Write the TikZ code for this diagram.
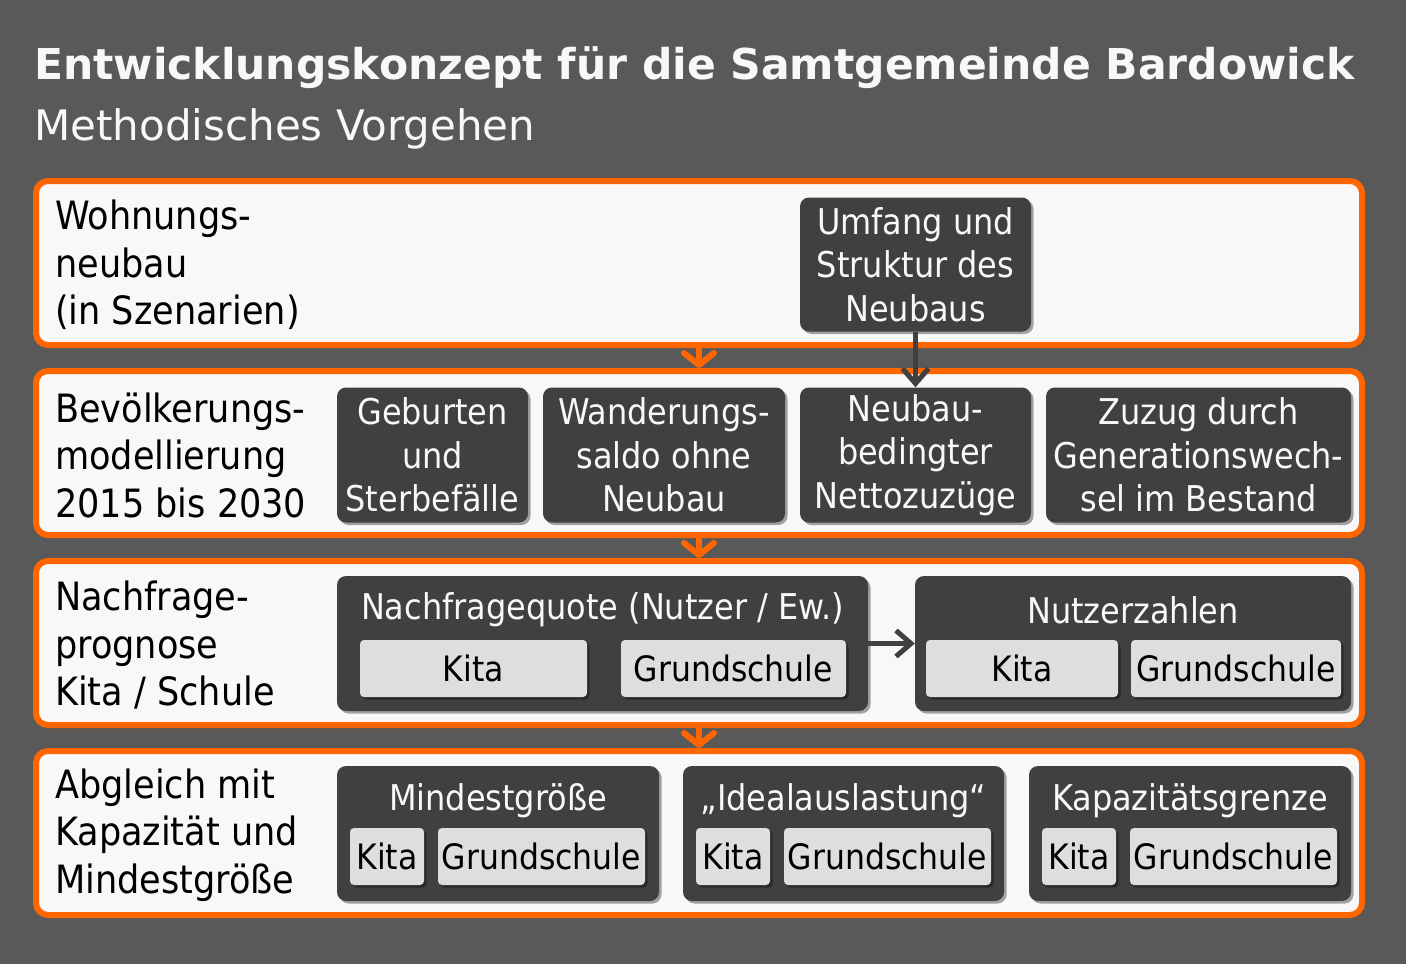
\documentclass[tikz,border=0pt]{standalone}
\usepackage{fontspec}
\setmainfont{DejaVu Sans Condensed}
\newfontfamily\widefam{DejaVu Sans}
\usetikzlibrary{shadows,arrows.meta}
\definecolor{bg}{HTML}{595959}
\definecolor{orng}{HTML}{FF6600}
\definecolor{panelfill}{HTML}{F8F8F8}
\definecolor{dark}{HTML}{404040}
\definecolor{light}{HTML}{DEDEDE}
\definecolor{txtw}{HTML}{F8F8F8}
\newcommand\ttlfont{\widefam\fontsize{42.5}{48}\bfseries\selectfont}
\newcommand\subfont{\widefam\fontsize{42}{48}\selectfont}
\newcommand\bxfont{\fontsize{35.5}{43.5}\selectfont}
\newcommand\lbxfont{\fontsize{35}{43.5}\selectfont}
\newcommand\lblfont{\fontsize{39}{47.5}\selectfont}
\begin{document}
\begin{tikzpicture}[x=1pt,y=-1pt,
  shad/.style={drop shadow={shadow xshift=2.5pt,shadow yshift=-2.5pt,opacity=0.35,fill=black}},
  panel/.style={draw=orng,line width=6pt,fill=panelfill,rounded corners=12pt,
    minimum width=1326pt,minimum height=164pt,inner sep=0pt,shad},
  darkbox/.style={fill=dark,rounded corners=9pt,inner sep=0pt,text=txtw,align=center,
    font=\bxfont,minimum height=135pt,shad},
  lightbox/.style={fill=light,rounded corners=4pt,inner sep=0pt,text=black,font=\lbxfont,
    minimum height=57pt,shad},
  hdr/.style={inner sep=0pt,text=txtw,font=\bxfont},
  lbl/.style={anchor=west,align=left,inner sep=0pt,font=\lblfont,text=black},
  oarrow/.style={draw=orng,line width=6pt,-{Straight Barb[length=12pt,width=30pt,round]}},
  darrow/.style={draw=dark,line width=5pt,-{Straight Barb[length=15pt,width=26pt]}}
]
\fill[bg] (0,0) rectangle (1406,964);
\useasboundingbox (0,0) rectangle (1406,964);

\node[anchor=base west,inner sep=0pt,font=\ttlfont,text=txtw] (title) at (34,79)
  {Entwicklungskonzept für die Samtgemeinde Bardowick};
\node[anchor=base west,inner sep=0pt,font=\subfont,text=txtw] (subtitle) at (34,140)
  {Methodisches Vorgehen};

% panels
\node[panel] (p1) at (699,263) {};
\node[panel] (p2) at (699,453) {};
\node[panel] (p3) at (699,643) {};
\node[panel] (p4) at (699,833) {};

% left labels
\node[lbl] (l1) at (55,265) {Wohnungs-\\neubau\\(in Szenarien)};
\node[lbl] (l2) at (55,455) {Bevölkerungs-\\modellierung\\2015 bis 2030};
\node[lbl] (l3) at (55,645) {Nachfrage-\\prognose\\Kita / Schule};
\node[lbl] (l4) at (55,835) {Abgleich mit\\Kapazität und\\Mindestgröße};

% panel 1
\node[darkbox,minimum width=231pt,minimum height=134pt] (u) at (915.5,264.5) {Umfang und\\Struktur des\\Neubaus};

% panel 2
\node[darkbox,minimum width=191pt] (g) at (432.5,455) {Geburten\\und\\Sterbefälle};
\node[darkbox,minimum width=242pt] (w) at (664,455) {Wanderungs-\\saldo ohne\\Neubau};
\node[darkbox,minimum width=231pt] (n) at (915.5,455) {Neubau-\\bedingter\\Nettozuzüge};
\node[darkbox,minimum width=305pt] (z) at (1198.5,455) {Zuzug durch\\Generationswech-\\sel im Bestand};

% panel 3
\node[darkbox,minimum width=531pt] (q) at (602.5,643.5) {};
\node[darkbox,minimum width=436pt] (nz) at (1133,643.5) {};
\node[hdr] (qh) at (602.5,610) {Nachfragequote (Nutzer / Ew.)};
\node[hdr] (nzh) at (1133,610) {Nutzerzahlen};
\node[lightbox,minimum width=227pt] (qk) at (473.5,668.5) {Kita};
\node[lightbox,minimum width=225pt] (qg) at (733.5,668.5) {Grundschule};
\node[lightbox,minimum width=192pt] (nzk) at (1022,668.5) {Kita};
\node[lightbox,minimum width=210pt] (nzg) at (1236,668.5) {Grundschule};

% panel 4
\node[darkbox,minimum width=322pt] (m) at (498,833.5) {};
\node[darkbox,minimum width=321pt] (i) at (843.5,833.5) {};
\node[darkbox,minimum width=322pt] (k) at (1190,833.5) {};
\node[hdr] (mh) at (498,800.5) {Mindestgröße};
\node[hdr] (ih) at (843.5,800.5) {„Idealauslastung“};
\node[hdr] (kh) at (1190,800.5) {Kapazitätsgrenze};
\node[lightbox,minimum width=74pt] (mk) at (387,856.5) {Kita};
\node[lightbox,minimum width=207pt] (mg) at (541.5,856.5) {Grundschule};
\node[lightbox,minimum width=74pt] (ik) at (733,856.5) {Kita};
\node[lightbox,minimum width=207pt] (ig) at (887.5,856.5) {Grundschule};
\node[lightbox,minimum width=74pt] (kk) at (1079,856.5) {Kita};
\node[lightbox,minimum width=207pt] (kg) at (1233.5,856.5) {Grundschule};

% arrows
\coordinate (ax) at (699,0);
\draw[oarrow] (p1.south -| ax) -- (p2.north -| ax);
\draw[oarrow] (p2.south -| ax) -- (p3.north -| ax);
\draw[oarrow] (p3.south -| ax) -- (p4.north -| ax);
\draw[darrow] (u.south) -- (n.north);
\draw[darrow] (q.east) -- (nz.west);
\end{tikzpicture}
\end{document}
